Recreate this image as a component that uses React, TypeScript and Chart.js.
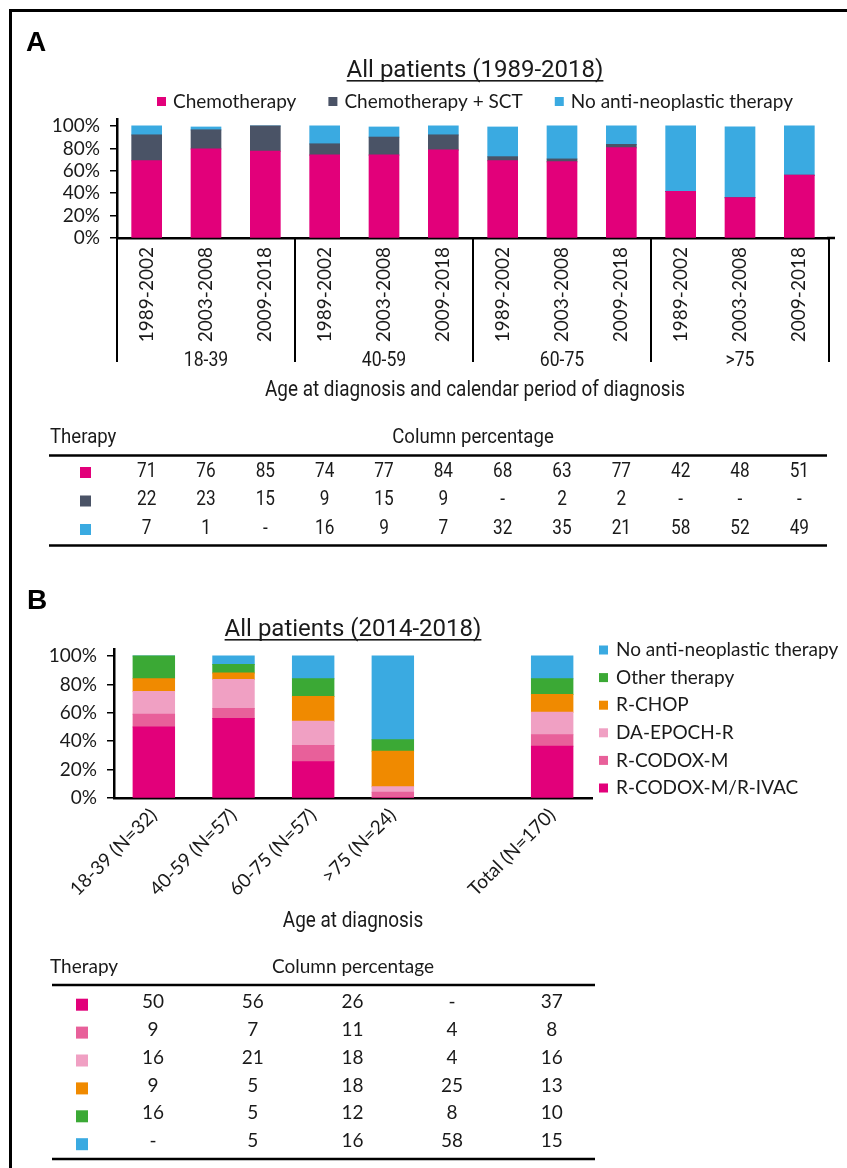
import React, { useEffect, useRef } from 'react';
import { Chart, registerables } from 'chart.js';

Chart.register(...registerables);

/* ---------------- Panel A data ---------------- */
const PERIODS = ['1989-2002', '2003-2008', '2009-2018'];
const AGE_GROUPS_A = ['18-39', '40-59', '60-75', '>75'];
const LABELS_A = AGE_GROUPS_A.flatMap(() => PERIODS);
const SERIES_A = ['Chemotherapy', 'Chemotherapy + SCT', 'No anti-neoplastic therapy'];
const CHEMO_A = [69, 79.5, 77.5, 74, 74, 78.5, 69, 68, 80.5, 41.5, 36, 56];
const CHEMO_SCT_A = [23, 17, 22.5, 10, 16, 13.5, 3.5, 2.5, 3, 0, 0, 0];
const NO_THERAPY_A = [8, 2.5, 0, 16, 9, 8, 26.5, 29.5, 16.5, 58.5, 63, 44];
const TABLE_A_CHEMO = [71, 76, 85, 74, 77, 84, 68, 63, 77, 42, 48, 51];
const TABLE_A_SCT = [22, 23, 15, 9, 15, 9, null, 2, 2, null, null, null];
const TABLE_A_NONE = [7, 1, null, 16, 9, 7, 32, 35, 21, 58, 52, 49];

/* ---------------- Panel B data ---------------- */
const LABELS_B = ['18-39 (N=32)', '40-59 (N=57)', '60-75 (N=57)', '>75 (N=24)', '', 'Total (N=170)'];
const SERIES_B = ['R-CODOX-M/R-IVAC', 'R-CODOX-M', 'DA-EPOCH-R', 'R-CHOP', 'Other therapy', 'No anti-neoplastic therapy'];
const CODOX_IVAC_B = [50, 56, 25.5, 0, null, 36.5];
const CODOX_B = [9, 7, 11.5, 4, null, 8];
const EPOCH_B = [16, 20.5, 17, 4, null, 16];
const CHOP_B = [9, 4.5, 17.5, 25, null, 12.5];
const OTHER_B = [16, 6, 12.5, 8, null, 11];
const NONE_B = [0, 6, 16, 59, null, 16];
const TABLE_B_CODOX_IVAC = [50, 56, 26, null, 37];
const TABLE_B_CODOX = [9, 7, 11, 4, 8];
const TABLE_B_EPOCH = [16, 21, 18, 4, 16];
const TABLE_B_CHOP = [9, 5, 18, 25, 13];
const TABLE_B_OTHER = [16, 5, 12, 8, 10];
const TABLE_B_NONE = [null, 5, 16, 58, 15];

const Y_TICKS = [0, 20, 40, 60, 80, 100];

/* ---------------- styles ---------------- */
const MAGENTA = '#E2007A';
const SLATE = '#4A5366';
const BLUE = '#3AAAE1';
const PINK = '#E8609A';
const LIGHT_PINK = '#F0A0C3';
const ORANGE = '#F08A00';
const GREEN = '#3BA935';
const COLORS_A = [MAGENTA, SLATE, BLUE];
const COLORS_B = [MAGENTA, PINK, LIGHT_PINK, ORANGE, GREEN, BLUE];

const INK = '#1a1a1a';
const SANS = "Lato, 'Noto Sans', 'Open Sans', sans-serif";
const COND = "Roboto, 'Liberation Sans', sans-serif";
const BOLD = "bold 28px 'Liberation Sans', Arial, sans-serif";

type TOpts = { color?: string; align?: CanvasTextAlign; baseline?: CanvasTextBaseline; sx?: number; underline?: boolean };

function drawText(ctx: CanvasRenderingContext2D, s: string, x: number, y: number, font: string, o: TOpts = {}) {
  ctx.save();
  ctx.font = font;
  ctx.fillStyle = o.color || INK;
  ctx.textAlign = o.align || 'left';
  ctx.textBaseline = o.baseline || 'alphabetic';
  ctx.translate(x, y);
  ctx.scale(o.sx ?? 1, 1);
  ctx.fillText(s, 0, 0);
  if (o.underline) {
    const w = ctx.measureText(s).width;
    const x0 = o.align === 'center' ? -w / 2 : o.align === 'right' ? -w : 0;
    ctx.fillRect(x0, 3, w, 1.6);
  }
  ctx.restore();
}

function textWidth(ctx: CanvasRenderingContext2D, s: string, font: string, sx = 1) {
  ctx.save();
  ctx.font = font;
  const w = ctx.measureText(s).width * sx;
  ctx.restore();
  return w;
}

function hline(ctx: CanvasRenderingContext2D, x0: number, x1: number, y: number, w: number) {
  ctx.save();
  ctx.strokeStyle = '#000';
  ctx.lineWidth = w;
  ctx.beginPath();
  ctx.moveTo(x0, y);
  ctx.lineTo(x1, y);
  ctx.stroke();
  ctx.restore();
}

const fmt = (v: number | null) => (v == null ? '-' : String(v));

type TableSpec = {
  headY: number; headFont: string; headSx: number; headCenter: number; therapyX: number;
  ruleX0: number; ruleX1: number; topRule: number; bottomRule: number;
  rowY0: number; rowStep: number; rows: (number | null)[][]; colors: string[]; colX: number[];
  numFont: string; numSx: number; markerX: number; markerSize: number; markerDy: number;
};

function drawTable(ctx: CanvasRenderingContext2D, t: TableSpec) {
  drawText(ctx, 'Therapy', t.therapyX, t.headY, t.headFont, { sx: t.headSx });
  drawText(ctx, 'Column percentage', t.headCenter, t.headY, t.headFont, { sx: t.headSx, align: 'center' });
  hline(ctx, t.ruleX0, t.ruleX1, t.topRule, 2.5);
  t.rows.forEach((row, r) => {
    const y = t.rowY0 + r * t.rowStep;
    ctx.fillStyle = t.colors[r];
    ctx.fillRect(t.markerX, y - t.markerSize / 2 + t.markerDy, t.markerSize, t.markerSize);
    row.forEach((v, c) => {
      drawText(ctx, fmt(v), t.colX[c], y, t.numFont, { align: 'center', baseline: 'middle', sx: t.numSx });
    });
  });
  hline(ctx, t.ruleX0, t.ruleX1, t.bottomRule, 2.5);
}

/* ---------------- Panel A decorations ---------------- */
const panelAPlugin = {
  id: 'panelA',
  afterDraw(chart: any) {
    const ctx: CanvasRenderingContext2D = chart.ctx;
    const a = chart.chartArea;
    const x = chart.scales.x;
    const mid = (a.left + a.right) / 2;

    drawText(ctx, 'A', 26, 51, BOLD, { color: '#000' });
    drawText(ctx, 'All patients (1989-2018)', mid + 2, 77, `24px ${COND}`, { align: 'center', underline: true });

    // legend (single row, centred)
    const lf = `19px ${SANS}`;
    const box = 9, gapBT = 7, gapItem = 32;
    const widths = SERIES_A.map((s) => textWidth(ctx, s, lf));
    const total = widths.reduce((p, w) => p + box + gapBT + w, 0) + gapItem * (SERIES_A.length - 1);
    let lx = mid + 2 - total / 2;
    const ly = 101.5;
    SERIES_A.forEach((s, i) => {
      ctx.fillStyle = COLORS_A[i];
      ctx.fillRect(lx, ly - box / 2, box, box);
      drawText(ctx, s, lx + box + gapBT, ly, lf, { baseline: 'middle' });
      lx += box + gapBT + widths[i] + gapItem;
    });

    // axis line extension, group separators and group labels
    hline(ctx, a.right - 2, a.right + 6, a.bottom, 2.5);
    ctx.save();
    ctx.strokeStyle = '#000';
    ctx.lineWidth = 2;
    for (let g = 0; g <= AGE_GROUPS_A.length; g++) {
      const px = Math.round(x.getPixelForValue(g * PERIODS.length - 0.5));
      ctx.beginPath();
      ctx.moveTo(px, a.bottom);
      ctx.lineTo(px, a.bottom + 124);
      ctx.stroke();
    }
    ctx.restore();
    AGE_GROUPS_A.forEach((g, i) => {
      drawText(ctx, g, x.getPixelForValue(i * PERIODS.length + 1), a.bottom + 128, `21px ${COND}`, { align: 'center', sx: 0.84 });
    });
    drawText(ctx, 'Age at diagnosis and calendar period of diagnosis', mid + 2, a.bottom + 158, `22px ${COND}`, { align: 'center', sx: 0.86 });

    drawTable(ctx, {
      headY: 443, headFont: `20px ${COND}`, headSx: 0.93, headCenter: mid, therapyX: 50,
      ruleX0: 49, ruleX1: 827, topRule: 455.5, bottomRule: 545.5,
      rowY0: 471.5, rowStep: 28.5,
      rows: [TABLE_A_CHEMO, TABLE_A_SCT, TABLE_A_NONE], colors: COLORS_A,
      colX: LABELS_A.map((_, i) => x.getPixelForValue(i)),
      numFont: `20px ${COND}`, numSx: 0.86, markerX: 80, markerSize: 11, markerDy: 1,
    });
  },
};

/* ---------------- Panel B decorations ---------------- */
const panelBPlugin = {
  id: 'panelB',
  afterDraw(chart: any) {
    const ctx: CanvasRenderingContext2D = chart.ctx;
    const a = chart.chartArea;
    const mid = (a.left + a.right) / 2;

    drawText(ctx, 'B', 27, 49, BOLD, { color: '#000' });
    drawText(ctx, 'All patients (2014-2018)', mid, 76, `24px ${COND}`, { align: 'center', underline: true });

    // vertical legend, top item = last series
    const lf = `19px ${SANS}`;
    const box = 9;
    const order = SERIES_B.map((s, i) => i).reverse();
    order.forEach((si, k) => {
      const y = 90 + k * 27.6;
      ctx.fillStyle = COLORS_B[si];
      ctx.fillRect(a.right + 7, y - box / 2, box, box);
      drawText(ctx, SERIES_B[si], a.right + 24, y, lf, { baseline: 'middle' });
    });

    drawText(ctx, 'Age at diagnosis', mid, a.bottom + 129, `22px ${COND}`, { align: 'center', sx: 0.86 });

    const colX = TABLE_B_CODOX.map((_, i) => 153 + i * 99.7);
    drawTable(ctx, {
      headY: 413, headFont: `19px ${SANS}`, headSx: 1, headCenter: mid, therapyX: 50,
      ruleX0: 52, ruleX1: 595, topRule: 425, bottomRule: 599,
      rowY0: 441.7, rowStep: 27.9,
      rows: [TABLE_B_CODOX_IVAC, TABLE_B_CODOX, TABLE_B_EPOCH, TABLE_B_CHOP, TABLE_B_OTHER, TABLE_B_NONE],
      colors: COLORS_B, colX,
      numFont: `19px ${SANS}`, numSx: 1, markerX: 76, markerSize: 12, markerDy: 3,
    });
  },
};

/* ---------------- chart configs ---------------- */
function yAxis(max: number, width: number) {
  return {
    stacked: true,
    min: 0,
    max,
    afterBuildTicks: (s: any) => { s.ticks = Y_TICKS.map((v) => ({ value: v })); },
    afterFit: (s: any) => { s.width = width; },
    grid: { display: true, drawOnChartArea: false, drawTicks: true, tickLength: 7, color: '#000', lineWidth: 1.5 },
    border: { display: true, color: '#000', width: 2.5 },
    ticks: { autoSkip: false, padding: 10, color: INK, font: { family: SANS, size: 19 }, callback: (v: any) => v + '%' },
  };
}

function configA(): any {
  return {
    type: 'bar',
    data: {
      labels: LABELS_A,
      datasets: [CHEMO_A, CHEMO_SCT_A, NO_THERAPY_A].map((d, i) => ({
        label: SERIES_A[i], data: d, backgroundColor: COLORS_A[i],
        categoryPercentage: 1, barPercentage: 0.5, borderWidth: 0, inflateAmount: 0.5,
      })),
    },
    options: {
      responsive: false,
      animation: false,
      events: [],
      layout: { padding: { left: 47, right: 18, top: 119, bottom: 212 } },
      plugins: { legend: { display: false }, title: { display: false }, tooltip: { enabled: false } },
      scales: {
        x: {
          stacked: true,
          offset: true,
          afterFit: (s: any) => { s.height = 110; },
          grid: { display: false, drawTicks: false },
          border: { display: true, color: '#000', width: 2.5 },
          ticks: { autoSkip: false, minRotation: 90, maxRotation: 90, padding: 9, color: INK, font: { family: SANS, size: 19 } },
        },
        y: yAxis(106.25, 70),
      },
    },
    plugins: [panelAPlugin],
  };
}

function configB(): any {
  return {
    type: 'bar',
    data: {
      labels: LABELS_B,
      datasets: [CODOX_IVAC_B, CODOX_B, EPOCH_B, CHOP_B, OTHER_B, NONE_B].map((d, i) => ({
        label: SERIES_B[i], data: d, backgroundColor: COLORS_B[i],
        categoryPercentage: 1, barPercentage: 0.52, borderWidth: 0, inflateAmount: 0.5,
      })),
    },
    options: {
      responsive: false,
      animation: false,
      events: [],
      layout: { padding: { left: 44, right: 255, top: 89, bottom: 270 } },
      plugins: { legend: { display: false }, title: { display: false }, tooltip: { enabled: false } },
      scales: {
        x: {
          stacked: true,
          offset: true,
          afterFit: (s: any) => { s.height = 100; },
          grid: { display: false, drawTicks: false },
          border: { display: true, color: '#000', width: 2.5 },
          ticks: { autoSkip: false, minRotation: 45, maxRotation: 45, padding: 6, color: INK, font: { family: SANS, size: 19 } },
        },
        y: yAxis(105, 70),
      },
    },
    plugins: [panelBPlugin],
  };
}

function ChartCanvas({ make, top, height }: { make: () => any; top: number; height: number }) {
  const ref = useRef<HTMLCanvasElement>(null);
  useEffect(() => {
    const chart = new Chart(ref.current as HTMLCanvasElement, make());
    return () => chart.destroy();
  }, [make]);
  return (
    <canvas
      ref={ref}
      width={847}
      height={height}
      style={{ position: 'absolute', left: 0, top, width: 847, height, display: 'block' }}
    />
  );
}

export default function App() {
  return (
    <div style={{ position: 'fixed', left: 0, top: 0, width: 847, height: 1168, overflow: 'hidden', background: '#fff' }}>
      <div
        style={{
          position: 'absolute', left: 9, top: 9, width: 900, height: 1200,
          borderTop: '3px solid #000', borderLeft: '3px solid #000', boxSizing: 'border-box',
        }}
      />
      <ChartCanvas make={configA} top={0} height={560} />
      <ChartCanvas make={configB} top={560} height={608} />
    </div>
  );
}
